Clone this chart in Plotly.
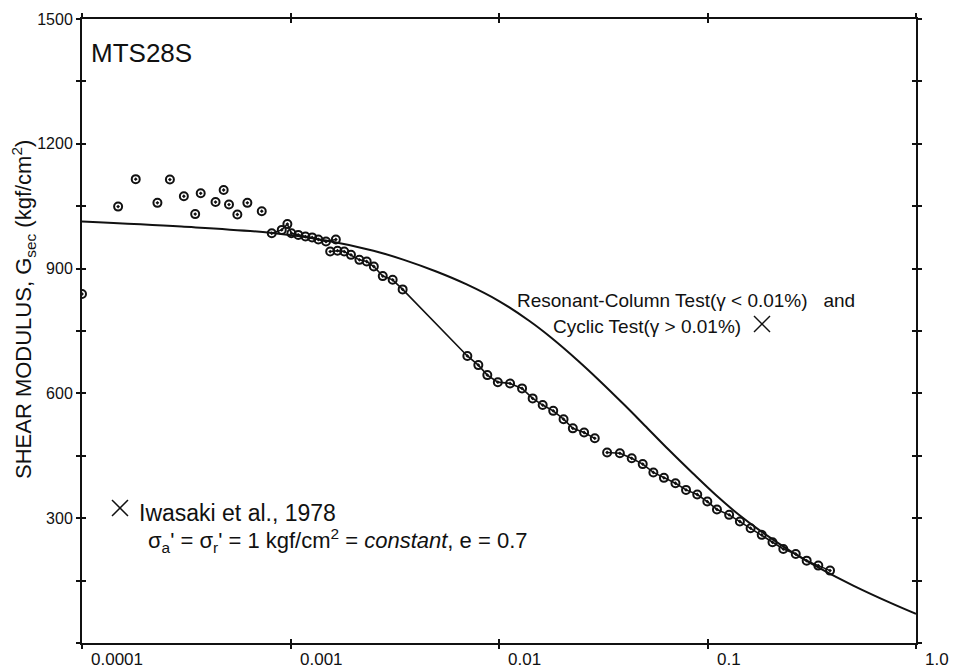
import numpy as np
import plotly.graph_objects as go

# Resonant-column / cyclic test reference curve (Iwasaki et al., 1978)
curve_strain = [1.0e-4, 3.0e-4, 8.0e-4, 1.5e-3, 2.5e-3, 3.5e-3, 5.0e-3, 7.0e-3,
                1.0e-2, 1.4e-2, 1.8e-2, 2.4e-2, 3.0e-2, 4.0e-2, 5.0e-2, 6.5e-2,
                8.5e-2, 0.11, 0.14, 0.18, 0.25, 0.35, 0.5, 0.75, 1.0]
curve_G = [1013, 1001, 986, 967, 943, 921, 893, 862,
           822, 774, 732, 678, 633, 572, 523, 465,
           408, 355, 310, 269, 221, 178, 138, 97, 70]

# MTS28S measurements: scattered small-strain readings
scatter_strain = [1.0e-4, 1.49e-4, 1.81e-4, 2.30e-4, 2.64e-4, 3.08e-4, 3.49e-4,
                  3.71e-4, 4.37e-4, 4.78e-4, 5.07e-4, 5.56e-4, 6.21e-4, 7.28e-4]
scatter_G = [839, 1049, 1115, 1058, 1114, 1074, 1031,
             1081, 1060, 1089, 1054, 1030, 1058, 1038]

# first connected run
run1_strain = [8.13e-4, 9.08e-4, 9.66e-4, 1.01e-3, 1.09e-3, 1.18e-3, 1.27e-3,
               1.36e-3, 1.48e-3, 1.65e-3]
run1_G = [985, 993, 1007, 985, 981, 977, 975, 970, 965, 970]

# second connected run
run2_strain = [1.55e-3, 1.68e-3, 1.81e-3, 1.95e-3, 2.14e-3, 2.32e-3, 2.51e-3, 2.77e-3,
               3.09e-3, 3.45e-3, 7.05e-3, 7.96e-3, 8.79e-3, 9.87e-3, 1.13e-2, 1.29e-2,
               1.45e-2, 1.62e-2, 1.82e-2, 2.04e-2, 2.26e-2, 2.56e-2, 2.88e-2]
run2_G = [941, 943, 941, 933, 921, 917, 905, 882,
          873, 850, 690, 668, 644, 627, 624, 612,
          588, 572, 558, 538, 516, 506, 492]

# third connected run
run3_strain = [3.30e-2, 3.80e-2, 4.33e-2, 4.89e-2, 5.50e-2, 6.18e-2, 7.02e-2, 7.89e-2,
               8.93e-2, 9.98e-2, 0.111, 0.127, 0.143, 0.161, 0.182, 0.205, 0.231,
               0.265, 0.299, 0.340, 0.387]
run3_G = [458, 456, 444, 430, 410, 397, 384, 368,
          357, 340, 321, 308, 292, 276, 260, 242, 226,
          214, 198, 186, 174]

# axis ticks
x_tick_vals = [0.0001, 0.001, 0.01, 0.1, 1.0]
x_tick_text = ["0.0001", "0.001", "0.01", "0.1", "1.0"]
y_tick_vals = [300, 600, 900, 1200, 1500]
y_tick_text = ["300", "600", "900", "1200", "1500"]

W, H = 956, 672
L, R, T, B = 82, 40, 19, 29
PW, PH = W - L - R, H - T - B


def px(xp):
    return (xp - L) / PW


def py(yp):
    return (H - B - yp) / PH


BLACK = "#111111"
SANS = "Liberation Sans, Arial, sans-serif"
marker = dict(symbol="circle-open-dot", size=8, color=BLACK, line=dict(width=2, color=BLACK))

fig = go.Figure()

fig.add_trace(go.Scatter(x=curve_strain, y=curve_G, mode="lines",
                         line=dict(color=BLACK, width=2, shape="spline", smoothing=1.0)))
fig.add_trace(go.Scatter(x=scatter_strain, y=scatter_G, mode="markers", marker=marker))
for xs, ys in [(run1_strain, run1_G), (run2_strain, run2_G), (run3_strain, run3_G)]:
    fig.add_trace(go.Scatter(x=xs, y=ys, mode="lines+markers", marker=marker,
                             line=dict(color=BLACK, width=1.6)))

# companion axes carrying the inward half of the tick marks
fig.add_trace(go.Scatter(x=[], y=[], xaxis="x2", yaxis="y2", showlegend=False))

axis_common = dict(showline=True, linecolor=BLACK, linewidth=2, showgrid=False,
                   zeroline=False, tickcolor=BLACK, tickwidth=1.5, ticklen=4)

fig.update_layout(
    width=W, height=H,
    margin=dict(l=L, r=R, t=T, b=B),
    paper_bgcolor="white", plot_bgcolor="white",
    showlegend=False,
    xaxis=dict(type="log", range=[-4, 0], tickvals=x_tick_vals, ticks="outside",
               showticklabels=False, mirror="ticks", **axis_common),
    yaxis=dict(range=[0, 1500], tickvals=y_tick_vals, ticktext=y_tick_text,
               ticks="outside", mirror="ticks",
               minor=dict(tick0=0, dtick=150, ticks="outside", ticklen=4,
                          tickwidth=1.5, tickcolor=BLACK, showgrid=False),
               tickfont=dict(family=SANS, size=16, color=BLACK), **axis_common),
    xaxis2=dict(type="log", range=[-4, 0], tickvals=x_tick_vals, ticks="inside",
                showticklabels=False, overlaying="x", mirror="ticks", **axis_common),
    yaxis2=dict(range=[0, 1500], tickvals=y_tick_vals, ticks="inside",
                showticklabels=False, overlaying="y", mirror="ticks",
                minor=dict(tick0=0, dtick=150, ticks="inside", ticklen=4,
                           tickwidth=1.5, tickcolor=BLACK, showgrid=False),
                **axis_common),
)

annotations = []
# x tick labels, set just to the right of each decade tick
for v, t in zip(x_tick_vals, x_tick_text):
    annotations.append(dict(x=np.log10(v), xref="x", y=0, yref="paper", text=t,
                            xanchor="left", yanchor="top", xshift=7, yshift=-5,
                            showarrow=False,
                            font=dict(family=SANS, size=17, color=BLACK)))

annotations += [
    dict(x=px(23), y=py(310), xref="paper", yref="paper", textangle=-90,
         text="SHEAR MODULUS, G<sub>sec</sub> (kgf/cm<sup>2</sup>)",
         xanchor="center", yanchor="middle", showarrow=False,
         font=dict(family=SANS, size=22, color=BLACK)),
    dict(x=px(89), y=py(53), xref="paper", yref="paper", text="MTS28S",
         xanchor="left", yanchor="middle", showarrow=False,
         font=dict(family="Liberation Sans Narrow, Arial Narrow, sans-serif", size=26, color=BLACK)),
    dict(x=px(515), y=py(301), xref="paper", yref="paper",
         text="Resonant-Column Test(γ &lt; 0.01%)   and",
         xanchor="left", yanchor="middle", showarrow=False,
         font=dict(family=SANS, size=19, color=BLACK)),
    dict(x=px(551), y=py(326), xref="paper", yref="paper",
         text="Cyclic Test(γ &gt; 0.01%)",
         xanchor="left", yanchor="middle", showarrow=False,
         font=dict(family=SANS, size=19, color=BLACK)),
    dict(x=px(137), y=py(513), xref="paper", yref="paper", text="Iwasaki et al., 1978",
         xanchor="left", yanchor="middle", showarrow=False,
         font=dict(family=SANS, size=23, color=BLACK)),
    dict(x=px(146), y=py(540), xref="paper", yref="paper",
         text="σ<sub>a</sub>' = σ<sub>r</sub>' = 1 kgf/cm<sup>2</sup> = <i>constant</i>, e = 0.7",
         xanchor="left", yanchor="middle", showarrow=False,
         font=dict(family=SANS, size=22, color=BLACK)),
]
fig.update_layout(annotations=annotations)

# thin cross symbols marking the Iwasaki et al. curve
shapes = []
for cx, cy in [(120, 508), (762, 324)]:
    for dy in (-1, 1):
        shapes.append(dict(type="line", xref="paper", yref="paper",
                           x0=px(cx - 8), y0=py(cy - 8 * dy), x1=px(cx + 8), y1=py(cy + 8 * dy),
                           line=dict(color=BLACK, width=1.5)))
fig.update_layout(shapes=shapes)

fig.write_html("out.html")
